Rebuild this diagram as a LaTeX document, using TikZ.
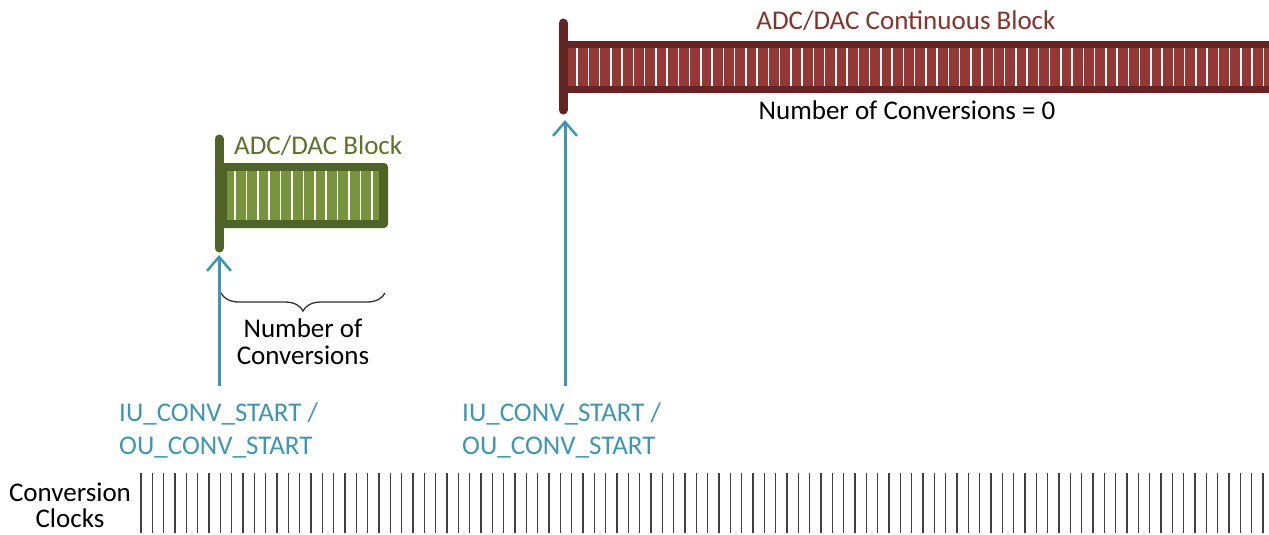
\documentclass[tikz,border=0pt]{standalone}
\usepackage{fontspec}
\setmainfont{Carlito}
\usetikzlibrary{positioning, arrows.meta, calc, decorations.pathreplacing}
\definecolor{darkgreen}{RGB}{79,98,40}
\definecolor{lightgreen}{RGB}{119,147,60}
\definecolor{titlegreen}{RGB}{92,114,46}
\definecolor{darkred}{RGB}{99,37,35}
\definecolor{blockred}{RGB}{149,55,53}
\definecolor{titlered}{RGB}{130,52,45}
\definecolor{tealblue}{RGB}{62,150,178}

\begin{document}
\begin{tikzpicture}[x=1pt, y=-1pt, font=\fontsize{27}{33}\selectfont,
  startarrow/.style={tealblue, line width=3pt, -{Straight Barb[length=14pt, width=24pt, line width=2.5pt]}},
  startlabel/.style={tealblue, align=left, anchor=west, inner sep=0pt},
  stripe/.style={white, line width=1.5pt},
  clockline/.style={black!75, line width=1.3pt}]
  \useasboundingbox (0,0) rectangle (1269,535);

  % single block
  \fill[darkgreen, rounded corners=4pt] (219,163) rectangle (388,228);
  \fill[lightgreen] (227,171) rectangle (379,220);
  \foreach \i in {0,...,12}
    \draw[stripe] (235+11.4*\i,171) -- (235+11.4*\i,220);
  \draw[darkgreen, line width=9pt, line cap=round] (219,139) -- (219,248);
  \coordinate (gbar) at (219,255);
  \node[titlegreen, anchor=west, inner sep=0pt] (gtitle) at (234,146) {ADC/DAC Block};
  \draw[black!80, line width=1.3pt, decorate, decoration={brace, mirror, amplitude=18pt}] (221,293) -- (385,293);
  \node[align=center, inner sep=0pt, font=\fontsize{27}{27}\selectfont] (gcount) at (303,342) {Number of\\Conversions};

  % continuous block
  \fill[darkred] (563,41) rectangle (1269,93);
  \fill[blockred] (568,48) rectangle (1269,86);
  \foreach \i in {0,...,61}
    \draw[stripe] (577+11.25*\i,48) -- (577+11.25*\i,86);
  \draw[darkred, line width=9pt, line cap=round] (563,23) -- (563,110);
  \coordinate (rbar) at (565,120);
  \node[titlered, inner sep=0pt] (rtitle) at (906,21) {ADC/DAC Continuous Block};
  \node[inner sep=0pt] (rcount) at (907,110) {Number of Conversions = 0};

  % start triggers
  \coordinate (gfoot) at (219,386);
  \coordinate (rfoot) at (565,386);
  \draw[startarrow] (gfoot) -- (gbar);
  \draw[startarrow] (rfoot) -- (rbar);
  \node[startlabel] (startA) at (119,430) {IU\_CONV\_START /\\OU\_CONV\_START};
  \node[startlabel] (startB) at (462,430) {IU\_CONV\_START /\\OU\_CONV\_START};

  % clock ticks
  \node[align=center, inner sep=0pt, font=\fontsize{27}{26}\selectfont] (clocks) at (70,505) {Conversion\\Clocks};
  \foreach \i in {0,...,99}
    \draw[clockline] (141+11.333*\i,473) -- ++(0,60);
\end{tikzpicture}
\end{document}
